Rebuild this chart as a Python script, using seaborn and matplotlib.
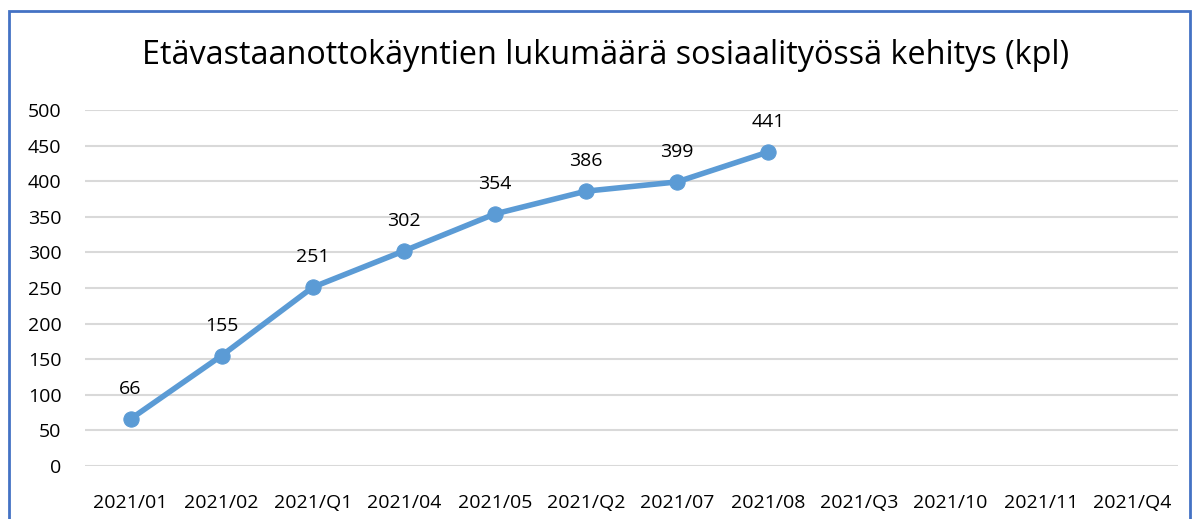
import matplotlib
matplotlib.use("Agg")
import matplotlib.pyplot as plt
import seaborn as sns
import pandas as pd
from matplotlib.patches import Rectangle

categories = ["2021/01", "2021/02", "2021/Q1", "2021/04", "2021/05", "2021/Q2",
              "2021/07", "2021/08", "2021/Q3", "2021/10", "2021/11", "2021/Q4"]
values = [66, 155, 251, 302, 354, 386, 399, 441]
title = "Etävastaanottokäyntien lukumäärä sosiaalityössä kehitys (kpl)"

sns.set_style("white")
plt.rcParams['font.family'] = ['Open Sans', 'DejaVu Sans']
plt.rcParams['text.color'] = 'black'
plt.rcParams['xtick.color'] = 'black'
plt.rcParams['ytick.color'] = 'black'

fig = plt.figure(figsize=(11.95, 5.19), dpi=100)
ax = fig.add_axes([85/1195, 1-466/519, (1178-85)/1195, (466-110)/519])

df = pd.DataFrame({"pos": range(len(values)), "value": values})
color = "#5B9BD5"
sns.lineplot(data=df, x="pos", y="value", ax=ax, color=color, linewidth=4,
             marker="o", markersize=11, markeredgecolor=color, zorder=3)
for x, v in zip(df["pos"], df["value"]):
    ax.annotate(str(v), (x, v), xytext=(0, 15), textcoords="offset points",
                ha="center", va="bottom", fontsize=14, color="black")

ax.set_xlim(-0.5, len(categories) - 0.5)
ax.set_ylim(0, 500)
ax.set_yticks(range(0, 501, 50))
ax.set_xticks(range(len(categories)))
ax.set_xticklabels(categories, fontsize=14)
ax.tick_params(axis="y", labelsize=14, length=0, pad=17, labelcolor="black")
ax.tick_params(axis="x", length=0, pad=20, labelcolor="black")
ax.grid(axis="y", color="#D9D9D9", linewidth=1.5)
ax.grid(axis="x", visible=False)
for s in ax.spines.values():
    s.set_visible(False)
ax.set_xlabel("")
ax.set_ylabel("")

fig.text(606/1195, 1-55/519, title, ha="center", va="center", fontsize=23.3,
         color="black")

fig.patches.append(Rectangle((9/1195, -0.05), (1190-9)/1195, 1.05-11/519,
                             transform=fig.transFigure, fill=False,
                             edgecolor="#4472C4", linewidth=2, zorder=10))

fig.savefig("out.png", dpi=100)
